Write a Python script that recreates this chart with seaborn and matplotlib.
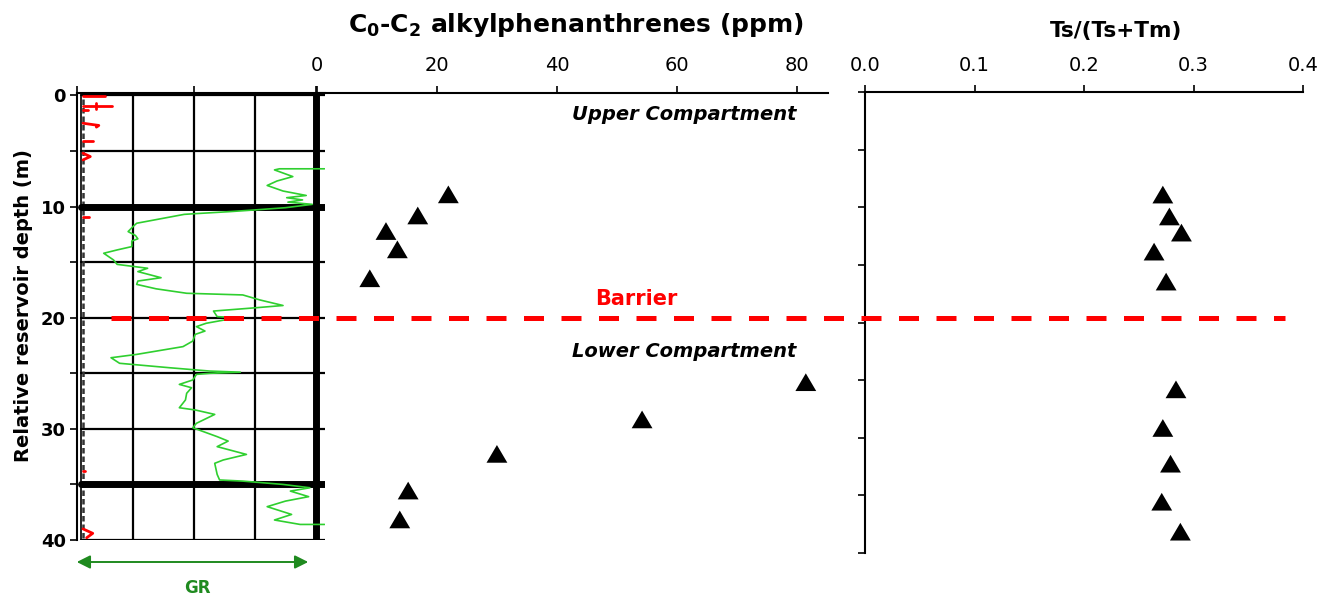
import matplotlib
matplotlib.use('Agg')
from matplotlib import pyplot as plt
from matplotlib.lines import Line2D
from matplotlib.path import Path
from matplotlib.markers import MarkerStyle
from matplotlib.patches import FancyArrowPatch
from matplotlib.transforms import blended_transform_factory
import pandas as pd
import seaborn as sns

sns.set_style('white')
plt.rcParams['font.family'] = ['DejaVu Sans']
plt.rcParams['text.color'] = 'black'
plt.rcParams['axes.labelcolor'] = 'black'
plt.rcParams['xtick.color'] = 'black'
plt.rcParams['ytick.color'] = 'black'

# core samples
sample_depth = [8.9, 10.8, 12.2, 13.85, 16.45, 25.8, 29.15, 32.25, 35.55, 38.15]
phenanthrenes = [21.9, 16.8, 11.5, 13.4, 8.8, 81.5, 54.2, 30.0, 15.2, 13.8]
ts_ratio = [0.272, 0.278, 0.289, 0.264, 0.275, 0.284, 0.272, 0.279, 0.271, 0.288]

# gamma ray log
gr_depth = [6.6, 6.6, 6.7, 7.3, 7.7, 8.1, 8.6, 9.0, 9.2, 9.4,
            9.6, 9.8, 10.1, 10.3, 10.45, 10.65, 10.7, 11.5, 11.8, 12.25,
            12.6, 12.9, 13.1, 13.6, 13.9, 14.2, 14.8, 15.2, 15.55, 15.85,
            16.4, 16.7, 17.0, 17.4, 17.8, 17.95, 18.4, 18.9, 19.1, 19.4,
            19.9, 20.0, 20.5, 20.8, 21.2, 21.5, 22.1, 22.6, 23.3, 23.6,
            24.1, 24.5, 24.8, 24.9, 25.0, 25.1, 25.6, 26.0, 26.3, 26.8,
            27.4, 28.1, 28.3, 28.7, 29.5, 29.9, 30.7, 31.1, 31.6, 32.3,
            32.8, 33.1, 34.1, 34.6, 34.7, 35.0, 35.3, 35.6, 36.1, 36.5,
            37.0, 37.7, 38.2, 38.6, 38.6]
gr_value = [207, 170, 166, 181, 168, 160, 173, 192, 176, 189,
            177, 197, 175, 150, 130, 99, 92, 53, 50, 46,
            52, 54, 49, 49, 37, 26, 34, 37, 62, 54,
            73, 54, 53, 69, 94, 140, 154, 173, 151, 116,
            119, 135, 110, 102, 109, 101, 99, 91, 53, 32,
            39, 80, 113, 138, 113, 102, 99, 88, 98, 94,
            93, 88, 101, 117, 102, 99, 119, 128, 119, 143,
            124, 117, 119, 121, 140, 173, 195, 179, 194, 175,
            160, 180, 166, 187, 207]

# second (red) log, drawn as short pieces off the baseline
red_piece = [0, 0, 1, 1, 2, 2, 3, 3, 4, 4, 4, 5, 5, 6, 6, 6, 7, 7, 8, 8, 9, 9, 9]
red_depth = [0.05, 0.05, 0.95, 0.95, 0.7, 1.2, 1.35, 1.35, 2.5, 2.7, 2.85,
             4.1, 4.1, 5.2, 5.5, 5.8, 10.9, 10.9, 33.8, 33.8, 39.0, 39.4, 39.8]
red_value = [9, 27, 9, 33, 20, 20, 9, 13, 9, 22, 20,
             9, 17, 9, 15, 9, 9, 14, 9, 11, 9, 17, 12]
baseline_value = 9

barrier_depth = 20
phen_ticks = [0, 20, 40, 60, 80]
ts_ticks = [0.0, 0.1, 0.2, 0.3, 0.4]
depth_ticks = [0, 5, 10, 15, 20, 25, 30, 35, 40]

samples = pd.DataFrame({'depth': sample_depth, 'phen': phenanthrenes, 'ts': ts_ratio})
red_df = pd.DataFrame({'piece': red_piece, 'depth': red_depth, 'value': red_value})

W, H = 1335, 597
fig = plt.figure(figsize=(W / 100, H / 100), dpi=100)


def px_axes(l, t, r, b):
    return fig.add_axes([l / W, 1 - b / H, (r - l) / W, (b - t) / H])


ax_log = px_axes(77, 93, 325, 540)
ax_sc = px_axes(317, 93, 828, 540)
ax_ts = px_axes(865, 92, 1303, 553)
ax_sc.patch.set_alpha(0)

# ---- log track
trk_l, trk_r = 7.4, 207.4
for x in [50, 100, 150]:
    ax_log.plot([x, x], [0, 40], color='black', lw=1.6, zorder=1)
ax_log.plot([200, 200], [0, 40], color='black', lw=5, zorder=3)
for d in [0, 5, 15, 20, 25, 30, 40]:
    ax_log.plot([trk_l, trk_r], [d, d], color='black', lw=1.6, zorder=1)
for d in [10, 35]:
    ax_log.plot([trk_l, trk_r], [d, d], color='black', lw=5, zorder=3)
ax_log.plot([trk_l, trk_l], [0, 40], color='black', lw=1.2, zorder=1)
ax_log.plot([baseline_value, baseline_value], [0.3, 40], color='#333333', lw=1.8,
            dashes=(2.2, 1.2), zorder=2)
sns.lineplot(x=gr_value, y=gr_depth, sort=False, estimator=None, color='#2fcf2f',
             lw=1.2, ax=ax_log, zorder=4)
sns.lineplot(data=red_df, x='value', y='depth', units='piece', estimator=None, sort=False,
             color='red', lw=2, ax=ax_log, zorder=4)
ax_log.set_xlim(4.1, 207.4)
ax_log.set_ylim(40, -0.22)
ax_log.set_xlabel('')
ax_log.set_ylabel('')
ax_log.xaxis.tick_top()
ax_log.set_xticks([4.1, 100, 200])
ax_log.set_xticklabels([])
ax_log.tick_params(axis='x', top=True, bottom=False, direction='out', length=5, width=1.2)
ax_log.set_yticks(depth_ticks)
ax_log.set_yticklabels([str(d) if d % 10 == 0 else '' for d in depth_ticks],
                       fontsize=13, fontweight='bold')
ax_log.tick_params(axis='y', left=True, direction='out', length=5, width=1.2, pad=3)
for s in ['right', 'bottom']:
    ax_log.spines[s].set_visible(False)
for s in ['left', 'top']:
    ax_log.spines[s].set_linewidth(1.5)
    ax_log.spines[s].set_color('black')

# ---- phenanthrenes
tri = MarkerStyle(Path([(-1, -0.85), (1, -0.85), (0, 0.85), (-1, -0.85)], closed=True))
sns.scatterplot(data=samples, x='phen', y='depth', marker=tri, s=225, color='black',
                edgecolor='none', ax=ax_sc, legend=False, zorder=5)
ax_sc.set_xlim(0, 85.2)
ax_sc.set_ylim(40, -0.22)
ax_sc.set_xlabel('')
ax_sc.set_ylabel('')
ax_sc.xaxis.tick_top()
ax_sc.set_xticks(phen_ticks)
ax_sc.set_xticklabels([str(t) for t in phen_ticks], fontsize=14)
ax_sc.tick_params(axis='x', top=True, bottom=False, direction='out', length=5, width=1.2, pad=8)
ax_sc.set_yticks([])
for s in ['left', 'right', 'bottom']:
    ax_sc.spines[s].set_visible(False)
ax_sc.spines['top'].set_linewidth(1.5)
ax_sc.spines['top'].set_color('black')
ax_sc.text(80, 1.75, 'Upper Compartment', ha='right', va='center', fontsize=14,
           fontweight='bold', style='italic')
ax_sc.text(80, 23.05, 'Lower Compartment', ha='right', va='center', fontsize=14,
           fontweight='bold', style='italic')
ax_sc.text(53.2, 18.3, 'Barrier', ha='center', va='center', fontsize=15,
           fontweight='bold', color='red')

# ---- Ts/(Ts+Tm)
sns.scatterplot(data=samples, x='ts', y='depth', marker=tri, s=225, color='black',
                edgecolor='none', ax=ax_ts, legend=False, zorder=5)
ax_ts.set_xlim(0, 0.4)
ax_ts.set_ylim(40, 0)
ax_ts.set_xlabel('')
ax_ts.set_ylabel('')
ax_ts.xaxis.tick_top()
ax_ts.set_xticks(ts_ticks)
ax_ts.set_xticklabels(['%.1f' % t for t in ts_ticks], fontsize=14)
ax_ts.tick_params(axis='x', top=True, bottom=False, direction='out', length=5, width=1.2, pad=7)
ax_ts.set_yticks(depth_ticks)
ax_ts.set_yticklabels([])
ax_ts.tick_params(axis='y', left=True, direction='out', length=5, width=1.2)
for s in ['right', 'bottom']:
    ax_ts.spines[s].set_visible(False)
for s in ['left', 'top']:
    ax_ts.spines[s].set_linewidth(1.5)
    ax_ts.spines[s].set_color('black')

# ---- figure level annotations
fig.text(576 / W, 1 - 25 / H, r'C$_\mathbf{0}$-C$_\mathbf{2}$ alkylphenanthrenes (ppm)',
         ha='center', va='center', fontsize=18, fontweight='bold')
fig.text(1116 / W, 1 - 31 / H, 'Ts/(Ts+Tm)', ha='center', va='center', fontsize=15.5,
         fontweight='bold')
fig.text(24 / W, 1 - 306 / H, 'Relative reservoir depth (m)', rotation=90, ha='center',
         va='center', fontsize=14, fontweight='bold')

trans = blended_transform_factory(fig.transFigure, ax_log.transData)
fig.add_artist(Line2D([111 / W, 1285 / W], [barrier_depth, barrier_depth], transform=trans,
                      color='red', lw=3.6, dashes=(4.0, 3.5), zorder=10))

fig.add_artist(FancyArrowPatch((74 / W, 1 - 562 / H), (311 / W, 1 - 562 / H),
                               transform=fig.transFigure, arrowstyle='<|-|>',
                               mutation_scale=20, color='#1f8a1f', lw=1.4))
fig.text(197 / W, 1 - 588 / H, 'GR', ha='center', va='center', fontsize=12,
         fontweight='bold', color='#1f8a1f')

plt.savefig('out.png', dpi=100)
